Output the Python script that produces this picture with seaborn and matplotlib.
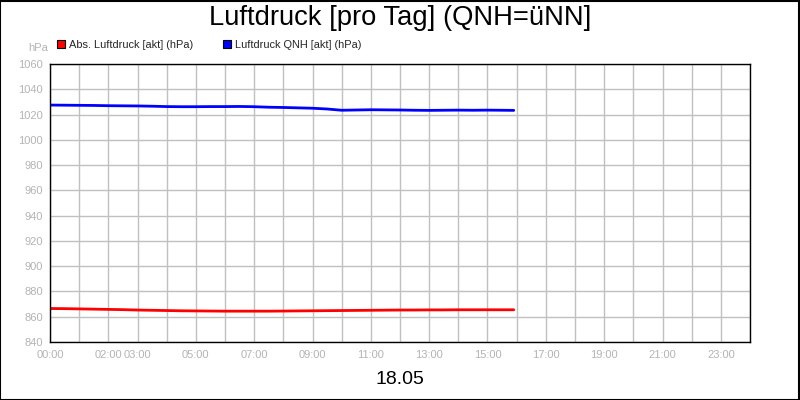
import matplotlib
matplotlib.use("Agg")
import matplotlib.pyplot as plt
from matplotlib.lines import Line2D
from matplotlib.patches import Rectangle
import seaborn as sns
import pandas as pd
import numpy as np

# ---- data ----
hours = [0.0, 0.5, 1.0, 1.5, 2.0, 2.5, 3.0, 3.5, 4.0, 4.5, 5.0, 5.5, 6.0, 6.5,
         7.0, 7.5, 8.0, 8.5, 9.0, 9.5, 10.0, 10.5, 11.0, 11.5, 12.0, 12.5,
         13.0, 13.5, 14.0, 14.5, 15.0, 15.5, 15.9]
qnh = [1027.5, 1027.4, 1027.3, 1027.2, 1027.0, 1026.9, 1026.8, 1026.6, 1026.3,
       1026.2, 1026.2, 1026.3, 1026.3, 1026.4, 1026.2, 1025.8, 1025.6, 1025.3,
       1025.0, 1024.4, 1023.4, 1023.6, 1023.8, 1023.7, 1023.6, 1023.4, 1023.3,
       1023.4, 1023.5, 1023.4, 1023.5, 1023.4, 1023.3]
absp = [866.5, 866.4, 866.2, 866.0, 865.8, 865.6, 865.3, 865.1, 864.9, 864.7,
        864.6, 864.5, 864.4, 864.4, 864.4, 864.4, 864.5, 864.6, 864.7, 864.8,
        864.9, 865.0, 865.1, 865.2, 865.3, 865.3, 865.4, 865.4, 865.5, 865.5,
        865.5, 865.5, 865.5]
series_names = ["Abs. Luftdruck [akt] (hPa)", "Luftdruck QNH [akt] (hPa)"]
series_colors = ["#ff0000", "#0000ff"]
xtick_hours = [0, 2, 3, 5, 7, 9, 11, 13, 15, 17, 19, 21, 23]
xtick_labels = ["00:00", "02:00", "03:00", "05:00", "07:00", "09:00", "11:00",
                "13:00", "15:00", "17:00", "19:00", "21:00", "23:00"]
yticks = list(range(840, 1061, 20))
title = "Luftdruck [pro Tag] (QNH=üNN]"
date_label = "18.05"
unit_label = "hPa"

df = pd.DataFrame({
    "hour": hours * 2,
    "value": absp + qnh,
    "series": [series_names[0]] * len(hours) + [series_names[1]] * len(hours),
})

sns.set_theme(style="white")
plt.rcParams["font.family"] = ["Liberation Sans", "DejaVu Sans"]

fig = plt.figure(figsize=(8, 4), dpi=100)
fig.patch.set_facecolor("white")
ax = fig.add_axes([50 / 800, 1 - 342 / 400, 700 / 800, 278 / 400])

sns.lineplot(data=df, x="hour", y="value", hue="series",
             palette=dict(zip(series_names, series_colors)),
             linewidth=2.0, ax=ax, legend=False)

ax.set_xlim(0, 24)
ax.set_ylim(840, 1060)
ax.set_yticks(yticks)
ax.set_xticks(range(0, 25), minor=False)
ax.set_xticklabels([xtick_labels[xtick_hours.index(h)] if h in xtick_hours else ""
                    for h in range(0, 25)])
ax.grid(True, color="#c0c0c0", linewidth=1.0)
ax.set_axisbelow(True)
for s in ax.spines.values():
    s.set_color("black")
    s.set_linewidth(1.0)
ax.tick_params(axis="y", direction="out", length=3, width=1,
               color="#a0a0a0", labelcolor="#b4b4b4", labelsize=8, pad=2)
ax.tick_params(axis="x", direction="out", length=3.5, width=1,
               color="#a0a0a0", labelcolor="#b4b4b4", labelsize=8, pad=2)
ax.set_xlabel("")
ax.set_ylabel("")

fig.text(0.5, 1 - 18 / 400, title, ha="center", va="center", fontsize=19.7, color="black")
fig.text(0.5, 1 - 380 / 400, date_label, ha="center", va="center", fontsize=14, color="black")
fig.text(48 / 800, 1 - 48 / 400, unit_label, ha="right", va="center", fontsize=8, color="#b4b4b4")

handles = [Line2D([0], [0], marker="s", linestyle="none", markersize=6,
                  markerfacecolor=c, markeredgecolor="black", markeredgewidth=0.8)
           for c in series_colors]
fig.legend(handles, series_names, loc="center left", bbox_to_anchor=(57 / 800, 1 - 45 / 400),
           ncol=2, frameon=False, fontsize=7.9, handlelength=0.8, handletextpad=0.3,
           columnspacing=2.7, borderpad=0, borderaxespad=0)

fig.patches.append(Rectangle((0.0005, 0.001), 0.998, 0.997, transform=fig.transFigure,
                             fill=False, edgecolor="black", linewidth=1.5))

fig.savefig("out.png", dpi=100)
